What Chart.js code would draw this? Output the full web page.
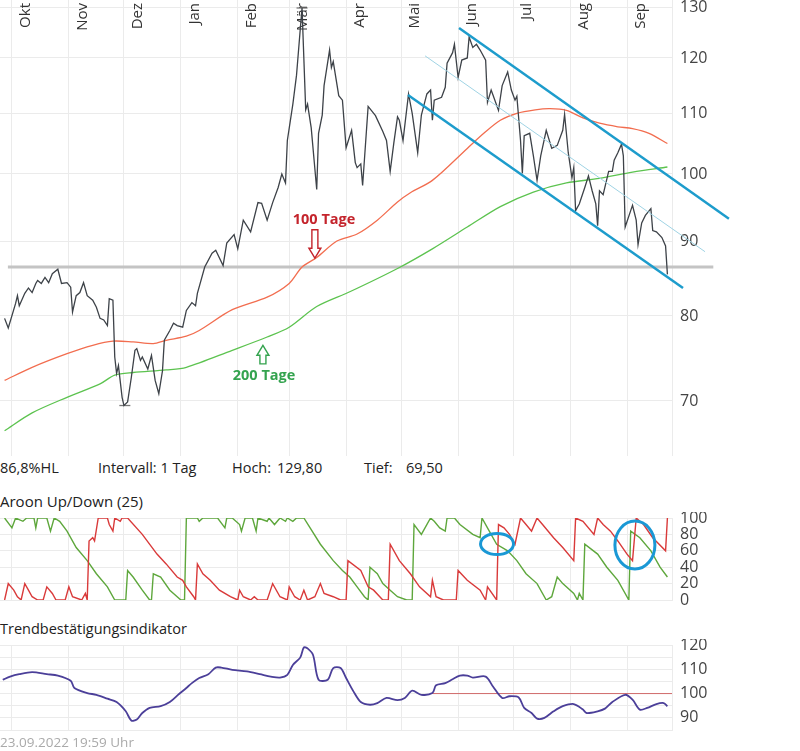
<!DOCTYPE html>
<html>
<head>
<meta charset="utf-8">
<script src="https://cdn.jsdelivr.net/npm/chart.js@4.4.1/dist/chart.umd.min.js"></script>
<style>
    body { margin: 0; background: #fff; font-family: 'Open Sans', sans-serif; }
    #wrap { position: relative; width: 800px; height: 751px; overflow: hidden; }
    canvas { position: absolute; left: 0; }
    .t { position: absolute; white-space: pre; color: #222; font-size: 14.5px; line-height: 18px; }
</style>
</head>
<body>
<div id="wrap">
    <canvas id="main" width="800" height="456" style="top:0"></canvas>
    <div class="t" style="left:0;top:459px">86,8%HL</div>
    <div class="t" style="left:98px;top:459px">Intervall: 1 Tag</div>
    <div class="t" style="left:232px;top:459px">Hoch:</div>
    <div class="t" style="left:277px;top:459px">129,80</div>
    <div class="t" style="left:364px;top:459px">Tief:</div>
    <div class="t" style="left:406px;top:459px">69,50</div>

    <div class="t" style="left:0;top:492px;font-size:15px">Aroon Up/Down (25)</div>
    <canvas id="aroon" width="800" height="94" style="top:512px"></canvas>

    <div class="t" style="left:0;top:620px">Trendbestätigungsindikator</div>
    <canvas id="trend" width="800" height="97" style="top:639px"></canvas>

    <div class="t" style="left:0;top:733px;color:#aaa;font-size:13.5px">23.09.2022 19:59 Uhr</div>
</div>

<script>
// x = Kalendertage ab 1. Okt 2021
const X_MIN = -6.5;
const X_MAX = 359.5;
const monthDays = [0, 31, 61, 92, 123, 151, 182, 212, 243, 273, 304, 335];
const monthLabels = ['Okt', 'Nov', 'Dez', 'Jan', 'Feb', 'Mär', 'Apr', 'Mai', 'Jun', 'Jul', 'Aug', 'Sep'];

const priceTicks = [70, 80, 90, 100, 110, 120, 130];
const aroonTicks = [0, 20, 40, 60, 80, 100];
const trendTicks = [85, 90, 95, 100, 105, 110, 115, 120];

const priceDays = [-4, -2, 2, 3, 4, 7, 9, 11, 13, 14, 16, 18, 20, 22, 25, 27, 30, 32, 33, 35, 37, 39, 41, 44, 46, 48, 50, 52, 53, 55,
    56, 57, 58, 60, 61, 63, 65, 67, 68, 70, 71, 74, 76, 78, 80, 82, 83, 86, 88, 90, 93, 95, 98, 100, 101, 105, 109, 111, 115, 117,
    121, 123, 126, 130, 134, 136, 139, 142, 145, 147, 149, 150, 153, 155, 157, 158, 160, 161, 163, 166, 167, 169, 170, 173, 174, 175, 178, 180, 182, 185,
    187, 188, 190, 191, 194, 198, 202, 204, 206, 208, 210, 211, 213, 216, 218, 221, 223, 226, 228, 229, 230, 234, 236, 237, 240, 241, 243, 245, 248, 249,
    251, 253, 255, 258, 259, 261, 262, 265, 267, 270, 272, 274, 275, 277, 278, 279, 282, 284, 286, 288, 291, 294, 297, 300, 301, 303, 305, 306, 307, 309,
    312, 314, 316, 318, 319, 320, 322, 325, 327, 328, 330, 332, 333, 334, 337, 338, 340, 341, 343, 345, 348, 349, 351, 354, 356, 357];
const priceValues = [79.7, 78.5, 81.6, 82.6, 81.3, 82.9, 83.6, 83.0, 84.2, 84.6, 84.2, 85.0, 84.3, 85.5, 86.1, 84.2, 84.3, 83.7, 80.5, 82.6, 83.0, 84.3, 82.6, 82.0, 81.1, 79.7, 79.5, 78.8, 82.2, 82.0,
    75.0, 73.1, 74.0, 70.4, 69.5, 69.9, 72.6, 75.8, 76.0, 74.6, 75.0, 73.6, 75.2, 72.3, 70.8, 73.4, 77.0, 78.2, 79.1, 78.8, 78.6, 80.7, 81.7, 81.3, 82.9, 86.4, 88.3, 88.7, 86.6, 89.7,
    90.9, 88.9, 93.0, 91.3, 95.6, 95.5, 93.0, 95.6, 97.9, 100.0, 98.6, 105.4, 111.6, 116.8, 125.4, 129.8, 110.6, 111.6, 107.5, 97.6, 106.6, 109.7, 114.9, 121.5, 118.2, 119.3, 113.1, 112.3, 104.2, 107.1,
    101.8, 101.0, 101.6, 98.2, 111.2, 109.6, 106.9, 105.4, 100.4, 105.0, 109.4, 108.8, 105.4, 113.4, 110.0, 103.4, 109.7, 113.4, 114.1, 108.8, 112.3, 112.8, 114.6, 119.0, 121.0, 122.6, 116.4, 119.6, 120.0, 124.0,
    122.0, 122.6, 121.5, 119.6, 111.9, 114.1, 113.2, 110.5, 114.9, 117.4, 114.1, 112.3, 113.0, 105.4, 100.1, 106.2, 106.6, 102.9, 99.0, 102.9, 107.1, 104.1, 104.6, 107.1, 109.8, 103.4, 99.4, 101.0, 94.4, 95.4,
    97.9, 99.7, 97.4, 95.4, 92.2, 97.4, 96.8, 100.4, 100.4, 102.2, 103.4, 104.8, 102.9, 92.0, 94.4, 95.2, 93.0, 89.5, 92.6, 93.7, 94.7, 91.5, 91.3, 90.5, 89.3, 85.4];

const ma100Days = [-4, 11, 30, 44, 55, 66, 77, 84, 95, 102, 120, 139, 151, 158, 166, 177, 188, 199, 210, 217, 229, 248, 257, 266, 275, 285, 293, 302, 311, 320, 330, 338, 347, 357];
const ma100Values = [72.3, 73.8, 75.4, 76.4, 76.9, 76.8, 76.6, 77.0, 77.5, 78.2, 80.8, 82.4, 84.2, 86.4, 87.7, 90.0, 91.0, 93.0, 95.7, 97.1, 99.0, 104.1, 106.6, 108.8, 110.0, 110.6, 110.8, 110.5, 109.2, 108.3, 107.7, 107.4, 106.6, 104.9];

const ma200Days = [-4, 11, 30, 48, 56, 66, 84, 95, 120, 139, 151, 166, 184, 210, 229, 248, 266, 284, 302, 320, 338, 357];
const ma200Values = [66.8, 68.7, 70.4, 71.9, 72.9, 73.2, 73.5, 73.8, 75.8, 77.4, 78.6, 81.2, 83.1, 86.2, 88.9, 92.0, 95.0, 97.2, 98.6, 99.3, 100.3, 101.1];

// Trendkanal und Widerstandslinie
const channelUpper = [[243.5, 125.8], [390.5, 93.2]];
const channelLower = [[215.7, 113.2], [365.5, 83.6]];
const channelMid = [[225, 120.4], [377.5, 88.5]];
const supportLine = [[-2.2, 86.4], [382, 86.4]];
const lowMark = [[58.5, 69.5], [64.5, 69.5]];
const highMark = [[155, 129.8], [161, 129.8]];

const aroonUpDays = [-4, 0, 2, 6, 8, 12, 13, 14, 19, 21, 23, 26, 30, 35, 41, 46, 52, 56, 62, 63, 66, 71, 75, 76, 77, 81, 86, 90, 92, 94,
    95, 101, 102, 104, 112, 116, 117, 120, 124, 125, 127, 131, 133, 134, 139, 140, 143, 146, 149, 150, 153, 155, 159, 168, 175, 180, 184, 188, 192, 194,
    195, 197, 199, 202, 206, 210, 215, 218, 219, 223, 228, 230, 233, 236, 237, 241, 244, 251, 255, 256, 259, 264, 270, 275, 280, 286, 291, 294, 297, 300,
    306, 308, 309, 311, 312, 319, 324, 330, 336, 337, 342, 348, 353, 357];
const aroonUpValues = [100, 88, 100, 96, 100, 100, 88, 100, 100, 84, 100, 96, 84, 64, 48, 32, 16, 0, 0, 36, 28, 12, 0, 0, 32, 28, 12, 4, 0, 0,
    100, 100, 96, 100, 100, 88, 100, 100, 92, 84, 100, 100, 84, 100, 96, 100, 92, 100, 96, 100, 96, 100, 100, 68, 48, 36, 28, 16, 4, 0,
    40, 36, 32, 20, 12, 4, 0, 0, 92, 80, 100, 96, 88, 84, 100, 100, 92, 80, 76, 100, 88, 68, 60, 48, 32, 20, 0, 4, 28, 20,
    8, 0, 8, 0, 68, 56, 40, 24, 0, 84, 76, 60, 40, 28];

const aroonDownDays = [-4, -2, 1, 3, 5, 7, 9, 11, 14, 17, 19, 22, 24, 29, 31, 33, 38, 40, 41, 42, 44, 45, 47, 52, 53, 55, 56, 59, 60, 63,
    71, 79, 84, 90, 93, 95, 99, 100, 101, 104, 108, 113, 119, 123, 124, 126, 130, 132, 134, 139, 142, 146, 150, 151, 154, 157, 159, 161, 165, 168,
    170, 175, 179, 182, 183, 190, 194, 197, 202, 205, 206, 211, 217, 222, 228, 229, 231, 235, 242, 243, 248, 255, 258, 259, 264, 265, 268, 271, 274, 277,
    280, 283, 286, 289, 295, 300, 306, 307, 311, 317, 319, 322, 326, 330, 335, 338, 340, 344, 349, 356, 357];
const aroonDownValues = [0, 20, 12, 4, 0, 20, 12, 4, 0, 0, 16, 8, 0, 0, 16, 4, 0, 8, 0, 72, 76, 72, 100, 100, 92, 84, 100, 96, 100, 100,
    80, 56, 44, 28, 24, 16, 4, 0, 44, 32, 24, 12, 4, 0, 12, 4, 0, 4, 0, 0, 20, 4, 0, 16, 4, 0, 12, 0, 4, 20,
    8, 4, 0, 0, 48, 36, 16, 12, 0, 0, 68, 48, 32, 16, 4, 24, 4, 0, 0, 36, 24, 12, 0, 16, 0, 92, 88, 80, 68, 100,
    92, 84, 100, 92, 76, 64, 48, 100, 96, 80, 100, 92, 84, 72, 56, 48, 100, 92, 76, 60, 100];

const trendDays = [-5, -1, 4, 11, 19, 25, 32, 34, 41, 46, 52, 57, 62, 65, 68, 71, 75, 81, 86, 91, 95, 98, 102, 107, 111, 114, 120, 128, 135, 141,
    146, 150, 153, 157, 159, 161, 164, 167, 172, 175, 179, 182, 186, 190, 195, 199, 204, 210, 214, 218, 223, 229, 231, 236, 240, 244, 248, 251, 258, 262,
    267, 271, 276, 279, 283, 286, 290, 295, 300, 306, 311, 313, 319, 323, 327, 334, 338, 342, 346, 351, 355, 357];
const trendValues = [105.7, 107.0, 108.0, 108.8, 108.0, 107.4, 105.3, 102.3, 100.2, 99.5, 97.9, 96.5, 92.7, 88.9, 89.3, 92.0, 94.1, 94.8, 96.5, 99.8, 102.3, 104.3, 106.4, 108.0, 110.7, 110.7, 109.8, 109.1, 108.0, 107.0,
    106.6, 107.7, 111.8, 114.8, 119.0, 118.6, 115.9, 105.7, 105.7, 110.5, 110.5, 106.4, 100.9, 96.5, 95.4, 96.1, 98.2, 97.3, 98.2, 101.2, 99.5, 100.2, 103.4, 104.3, 105.9, 107.4, 107.4, 106.6, 107.0, 102.9,
    98.2, 98.9, 98.4, 94.1, 92.0, 89.7, 90.0, 92.7, 94.8, 95.7, 93.4, 92.0, 92.7, 93.8, 96.5, 99.5, 97.5, 93.4, 94.1, 95.7, 96.1, 94.8];
const trendRef = [[229, 100], [359.5, 100]];

// Beschriftungen (Datenkoordinaten)
const label100 = { text: '100 Tage', x: 170, y: 93.0, arrowX: 165, from: 91.6, to: 87.6 };
const label200 = { text: '200 Tage', x: 137.3, y: 72.8, arrowX: 136.7, from: 74.2, to: 76.4 };
const aroonCircles = [
    { x: 264.2, y: 68.3, rx: 16.5, ry: 10.5 },
    { x: 339.3, y: 67, rx: 20, ry: 24 }
];

const GRID = '#ebebeb';
Chart.defaults.font.family = "'Open Sans', sans-serif";
Chart.defaults.color = '#444';

const pts = (xs, ys) => xs.map((x, i) => ({ x: x, y: ys[i] }));
const pairs = arr => arr.map(p => ({ x: p[0], y: p[1] }));

function lineSet(data, color, width, order, extra) {
    return Object.assign({
        data: data,
        borderColor: color,
        borderWidth: width,
        pointRadius: 0,
        fill: false,
        tension: 0,
        order: order
    }, extra || {});
}

function monthAxis() {
    return {
        type: 'linear',
        min: X_MIN,
        max: X_MAX,
        bounds: 'data',
        afterBuildTicks: s => { s.ticks = monthDays.map(v => ({ value: v })); },
        ticks: { display: false },
        grid: { color: GRID, drawTicks: false },
        border: { display: false },
        afterFit: s => { s.height = 0; }
    };
}

function valueAxis(type, min, max, ticks, callback) {
    return {
        type: type,
        position: 'right',
        min: min,
        max: max,
        bounds: 'data',
        afterBuildTicks: s => { s.ticks = ticks.map(v => ({ value: v })); },
        ticks: {
            padding: 8,
            color: '#444',
            font: { size: 16 },
            autoSkip: false,
            callback: callback || (v => String(v))
        },
        grid: { color: GRID, drawTicks: false },
        border: { color: GRID },
        afterFit: s => { s.width = 128; s.paddingTop = 0; s.paddingBottom = 0; }
    };
}

const baseOptions = (scales, padding) => ({
    responsive: false,
    animation: false,
    events: [],
    layout: { padding: padding },
    plugins: { legend: { display: false }, tooltip: { enabled: false } },
    scales: scales
});

function hollowArrow(ctx, px, y0, y1, color) {
    const dir = Math.sign(y1 - y0);
    const head = 10 * dir;
    ctx.beginPath();
    ctx.moveTo(px - 3, y0);
    ctx.lineTo(px - 3, y1 - head);
    ctx.lineTo(px - 6, y1 - head);
    ctx.lineTo(px, y1);
    ctx.lineTo(px + 6, y1 - head);
    ctx.lineTo(px + 3, y1 - head);
    ctx.lineTo(px + 3, y0);
    ctx.closePath();
    ctx.fillStyle = '#fff';
    ctx.fill();
    ctx.strokeStyle = color;
    ctx.lineWidth = 1.4;
    ctx.stroke();
}

const monthLabelPlugin = {
    id: 'monthLabels',
    beforeDatasetsDraw(chart) {
        const { ctx, scales: { x } } = chart;
        ctx.save();
        ctx.font = "15px 'Open Sans'";
        ctx.fillStyle = '#333';
        ctx.textAlign = 'right';
        ctx.textBaseline = 'alphabetic';
        monthDays.forEach((d, i) => {
            ctx.save();
            ctx.translate(x.getPixelForValue(d) + 18, 3);
            ctx.rotate(-Math.PI / 2);
            ctx.fillText(monthLabels[i], 0, 0);
            ctx.restore();
        });
        ctx.restore();
    }
};

const maLabelPlugin = {
    id: 'maLabels',
    afterDatasetsDraw(chart) {
        const { ctx, scales: { x, y } } = chart;
        ctx.save();
        ctx.font = "bold 14.5px 'Open Sans'";
        ctx.textAlign = 'center';
        ctx.textBaseline = 'middle';
        [[label100, '#c4242c'], [label200, '#34a34f']].forEach(([l, c]) => {
            ctx.fillStyle = c;
            ctx.fillText(l.text, x.getPixelForValue(l.x), y.getPixelForValue(l.y));
            hollowArrow(ctx, x.getPixelForValue(l.arrowX), y.getPixelForValue(l.from), y.getPixelForValue(l.to), c);
        });
        ctx.restore();
    }
};

const circlePlugin = {
    id: 'circles',
    afterDatasetsDraw(chart) {
        const { ctx, scales: { x, y } } = chart;
        ctx.save();
        ctx.strokeStyle = '#1a98d5';
        ctx.lineWidth = 3;
        aroonCircles.forEach(c => {
            ctx.beginPath();
            ctx.ellipse(x.getPixelForValue(c.x), y.getPixelForValue(c.y), c.rx, c.ry, 0, 0, Math.PI * 2);
            ctx.stroke();
        });
        ctx.restore();
    }
};

new Chart(document.getElementById('main'), {
    type: 'line',
    data: {
        datasets: [
            lineSet(pairs(channelUpper), '#1d9ccc', 2.5, 0, { clip: false }),
            lineSet(pairs(channelLower), '#1d9ccc', 2.5, 0, { clip: false }),
            lineSet(pairs(channelMid), '#9fd3e4', 1, 0, { clip: false }),
            lineSet(pts(priceDays, priceValues), '#3d4248', 1.3, 1),
            lineSet(pairs(lowMark), '#777', 1.3, 1),
            lineSet(pairs(highMark), '#777', 1.3, 1),
            lineSet(pts(ma100Days, ma100Values), '#f26d4f', 1.3, 2, { tension: 0.3 }),
            lineSet(pts(ma200Days, ma200Values), '#5cc34f', 1.3, 2, { tension: 0.3 }),
            lineSet(pairs(supportLine), '#c4c4c4', 3, 3, { clip: false })
        ]
    },
    options: baseOptions({
        x: monthAxis(),
        y: valueAxis('logarithmic', 64.2, 131.44, priceTicks)
    }, 0),
    plugins: [monthLabelPlugin, maLabelPlugin]
});

new Chart(document.getElementById('aroon'), {
    type: 'line',
    data: {
        datasets: [
            lineSet(pts(aroonDownDays, aroonDownValues), '#d93a3a', 1.4, 0),
            lineSet(pts(aroonUpDays, aroonUpValues), '#5ea73c', 1.4, 1)
        ]
    },
    options: baseOptions({
        x: monthAxis(),
        y: valueAxis('linear', 0, 100, aroonTicks)
    }, { top: 6, bottom: 6 }),
    plugins: [circlePlugin]
});

new Chart(document.getElementById('trend'), {
    type: 'line',
    data: {
        datasets: [
            lineSet(pts(trendDays, trendValues), '#4b3f99', 1.8, 0, { tension: 0.3 }),
            lineSet(pairs(trendRef), '#d06a6a', 1, 1)
        ]
    },
    options: baseOptions({
        x: monthAxis(),
        y: valueAxis('linear', 85, 120, trendTicks, v => (v % 10 === 0 ? String(v) : ''))
    }, { top: 6, bottom: 6 })
});
</script>
</body>
</html>
